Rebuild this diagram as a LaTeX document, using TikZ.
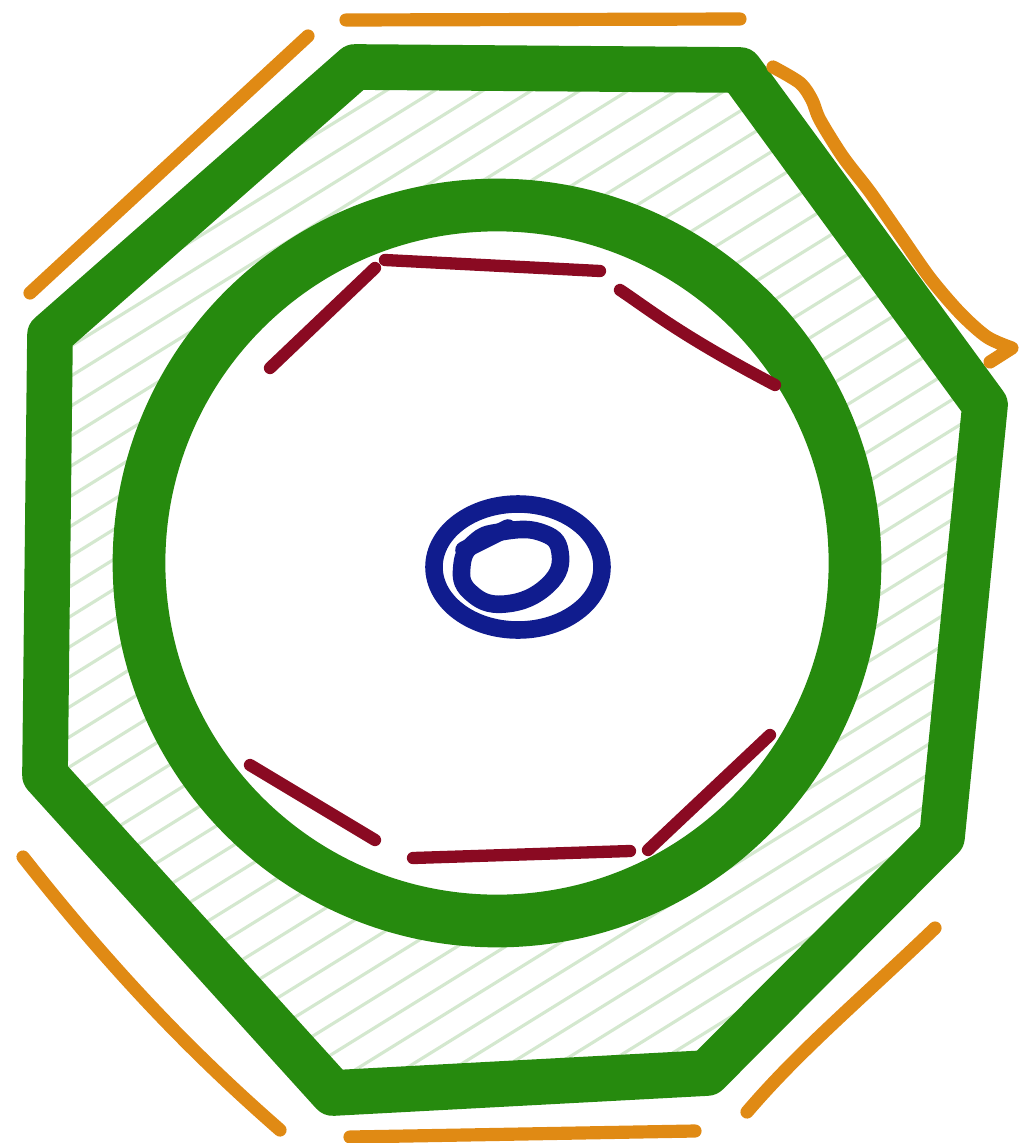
\documentclass[tikz,border=0pt]{standalone}
\usepackage{xcolor}
\usepackage{tikz}
\usetikzlibrary{calc}
\definecolor{sketchgreen}{HTML}{268A0E}
\definecolor{sketchorange}{HTML}{E08A14}
\definecolor{sketchred}{HTML}{8A0A22}
\definecolor{sketchblue}{HTML}{101C8E}
\tikzset{
  greenring/.style={draw=sketchgreen, line width=26pt, line join=round, line cap=round},
  orangeline/.style={draw=sketchorange, line width=7.5pt, line cap=round, line join=round},
  redline/.style={draw=sketchred, line width=7pt, line cap=round},
  blueline/.style={draw=sketchblue, line width=10pt, line cap=round},
  hatchline/.style={draw=sketchgreen!25, line width=1.8pt, opacity=0.8}
}
\begin{document}
\begin{tikzpicture}[x=0.02cm, y=-0.02cm]
  \useasboundingbox (0,0) rectangle (1029,1143);
  % outer octagon corners
  \coordinate (oct1) at (355,67);
  \coordinate (oct2) at (740,70);
  \coordinate (oct3) at (985,405);
  \coordinate (oct4) at (942,837);
  \coordinate (oct5) at (707,1073);
  \coordinate (oct6) at (333,1093);
  \coordinate (oct7) at (45,775);
  \coordinate (oct8) at (50,335);
  \coordinate (mid) at (497,563);
  % hatching between octagon and circle
  \begin{scope}[even odd rule]
    \clip (oct1) -- (oct2) -- (oct3) -- (oct4) -- (oct5) -- (oct6) -- (oct7) -- (oct8) -- cycle
      (mid) circle (358);
    \foreach \c in {0,30,...,1800}
      \draw[hatchline] (0,\c) -- (1100,\c-682);
  \end{scope}
  % green shapes
  \draw[greenring] (oct1) -- (oct2) -- (oct3) -- (oct4) -- (oct5) -- (oct6) -- (oct7) -- (oct8) -- cycle;
  \draw[greenring, line width=30pt] (mid) circle (358);
  % orange outer strokes
  \draw[orangeline] (30,293) -- (308,36);
  \draw[orangeline] (346,20) -- (740,19);
  \draw[orangeline] plot[smooth, tension=0.5] coordinates {(773,67) (800,83) (812,100) (820,120) (843,157) (870,192) (900,235) (930,278) (960,313) (987,337) (1012,348)} -- (990,362);
  \draw[orangeline] (23,857) .. controls (120,980) and (200,1060) .. (280,1130);
  \draw[orangeline] (350,1137) -- (695,1131);
  \draw[orangeline] (935,928) .. controls (860,1000) and (800,1050) .. (747,1112);
  % red inner strokes
  \draw[redline] (270,368) -- (375,268);
  \draw[redline] (385,260) -- (600,271);
  \draw[redline] (620,290) .. controls (650,310) and (680,335) .. (775,385);
  \draw[redline] (250,765) -- (375,840);
  \draw[redline] (413,858) -- (630,851);
  \draw[redline] (648,850) -- (770,735);
  % blue centre
  \draw[blueline] (518,567) ellipse (84 and 63);
  \draw[blueline] plot[smooth cycle, tension=0.8] coordinates {(500,532) (540,532) (560,552) (548,585) (505,604) (470,592) (462,565) (475,542)};
  \draw[blueline] (464,550) -- (508,528);
\end{tikzpicture}
\end{document}
